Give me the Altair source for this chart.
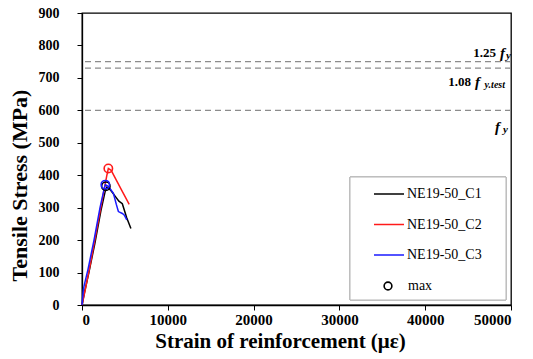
import altair as alt
import pandas as pd

# Stress-strain records of the three reinforcement coupons
c1_strain = [0, 300, 800, 1500, 2200, 2700, 2900, 3300, 3900, 4300, 4700, 5200, 5700]
c1_stress = [0, 40, 100, 190, 290, 350, 363, 355, 334, 320, 312, 270, 236]
c2_strain = [0, 400, 1000, 1700, 2400, 2900, 3070, 3400, 4000, 4600, 5100, 5500]
c2_stress = [0, 50, 130, 230, 330, 400, 421, 415, 385, 355, 330, 310]
c3_strain = [0, 150, 250, 700, 1400, 2100, 2600, 2720, 3100, 3660, 4000, 4240, 4700, 4940, 5220]
c3_stress = [0, 45, 60, 110, 200, 300, 360, 371, 365, 344, 310, 288, 282, 277, 262]

series_names = ["NE19-50_C1", "NE19-50_C2", "NE19-50_C3"]
series_colors = ["#000000", "#ff1a1a", "#1a1aff"]

# Peak (max) points of each specimen
max_strain = [2780, 3070, 2720]
max_stress = [366, 421, 371]

# Reference stress levels (MPa)
ref_levels = [750, 730, 600]

FONT = "Liberation Serif, Times New Roman, serif"

rows = []
for name, xs, ys in zip(series_names,
                        [c1_strain, c2_strain, c3_strain],
                        [c1_stress, c2_stress, c3_stress]):
    for i, (x, y) in enumerate(zip(xs, ys)):
        rows.append({"series": name, "strain": x, "stress": y, "order": i})
curves = pd.DataFrame(rows)

peaks = pd.DataFrame({"series": series_names, "strain": max_strain,
                      "stress": max_stress, "kind": ["max"] * 3})
refs = pd.DataFrame({"stress": ref_levels})

x_scale = alt.Scale(domain=[0, 50000], nice=False)
y_scale = alt.Scale(domain=[0, 900], nice=False)
color_scale = alt.Scale(domain=series_names, range=series_colors)

x_axis = alt.Axis(title="Strain of reinforcement (με)",
                  values=[0, 10000, 20000, 30000, 40000, 50000],
                  format="d", labelFont=FONT, labelFontSize=15,
                  labelFontWeight="bold", labelOverlap=False,
                  titleFont=FONT, titleFontSize=21, titleFontWeight="bold",
                  labelPadding=2, titleX=198, titleY=42,
                  titleBaseline="alphabetic", titleAlign="center")
y_axis = alt.Axis(title="Tensile Stress (MPa)",
                  values=list(range(0, 901, 100)),
                  labelFont=FONT, labelFontSize=14, labelFontWeight="bold",
                  labelOverlap=False,
                  titleFont=FONT, titleFontSize=22, titleFontWeight="bold",
                  labelPadding=18, titleX=-56, titleY=172,
                  titleBaseline="alphabetic", titleAlign="center",
                  titleAngle=270)

x_enc = alt.X("strain:Q", scale=x_scale, axis=x_axis)
y_enc = alt.Y("stress:Q", scale=y_scale, axis=y_axis)

lines = alt.Chart(curves).mark_line(strokeWidth=1.5).encode(
    x=x_enc, y=y_enc, order="order:Q",
    color=alt.Color("series:N", scale=color_scale,
                    legend=alt.Legend(title=None, orient="none", legendX=291,
                                      legendY=165, symbolType="stroke",
                                      symbolSize=900, symbolStrokeWidth=1.5,
                                      labelFont=FONT, labelFontSize=14,
                                      labelOffset=2, rowPadding=7.5, padding=0)))

ref_lines = alt.Chart(refs).mark_rule(color="#8c8c8c", strokeDash=[6, 4],
                                      strokeWidth=1.3).encode(y=y_enc)

max_pts = alt.Chart(peaks).mark_point(filled=False, size=70, strokeWidth=1.6,
                                      opacity=1).encode(
    x=x_enc, y=y_enc,
    color=alt.Color("series:N", scale=color_scale),
    shape=alt.Shape("kind:N", scale=alt.Scale(domain=["max"], range=["circle"]),
                    legend=alt.Legend(title=None, orient="none", legendX=299,
                                      legendY=266, symbolSize=60,
                                      symbolStrokeColor="black",
                                      symbolFillColor="transparent",
                                      symbolStrokeWidth=1.6,
                                      labelFont=FONT, labelFontSize=14,
                                      labelOffset=13, padding=0)))

# Legend frame
legend_box = alt.Chart(refs).mark_rect(fill="white", stroke="#b5b5b5",
                                       strokeWidth=1).encode(
    x=alt.value(268), x2=alt.value(424), y=alt.value(164), y2=alt.value(287))


def label(text, level, dx, dy, size=13, italic=False):
    return alt.Chart(pd.DataFrame({"strain": [50000], "stress": [level],
                                   "t": [text]})).mark_text(
        font=FONT, fontSize=size, fontWeight="bold",
        fontStyle="italic" if italic else "normal",
        align="right", baseline="middle", dx=dx, dy=dy, color="black").encode(
        x=x_enc, y=y_enc, text="t:N")


ref_labels = [
    label("1.25", 750, -15, -9), label("f", 750, -6, -9, 15, True),
    label("y", 750, 0, -6, 11, True),
    label("1.08", 730, -40, 14), label("f", 730, -31, 14, 15, True),
    label("y.test", 730, -6, 17, 10, True),
    label("f", 600, -11, 17, 15, True), label("y", 600, -3, 20, 11, True),
]

chart = alt.layer(
    lines, ref_lines, legend_box, max_pts, *ref_labels
).properties(
    width=429, height=292,
    autosize=alt.AutoSizeParams(type="none"),
    padding={"left": 82, "top": 13, "right": 22, "bottom": 54},
    background="white",
).configure_view(
    stroke="black", strokeWidth=1.3
).configure_axis(
    grid=False, domainColor="black", tickColor="black", domainWidth=1.3,
    tickSize=5, labelFont=FONT, titleFont=FONT, labelColor="black",
    titleColor="black"
).configure_legend(
    labelColor="black", labelFont=FONT
).configure_text(
    font=FONT
)

chart.save("out.html", embed_options={"renderer": "svg", "actions": False})
